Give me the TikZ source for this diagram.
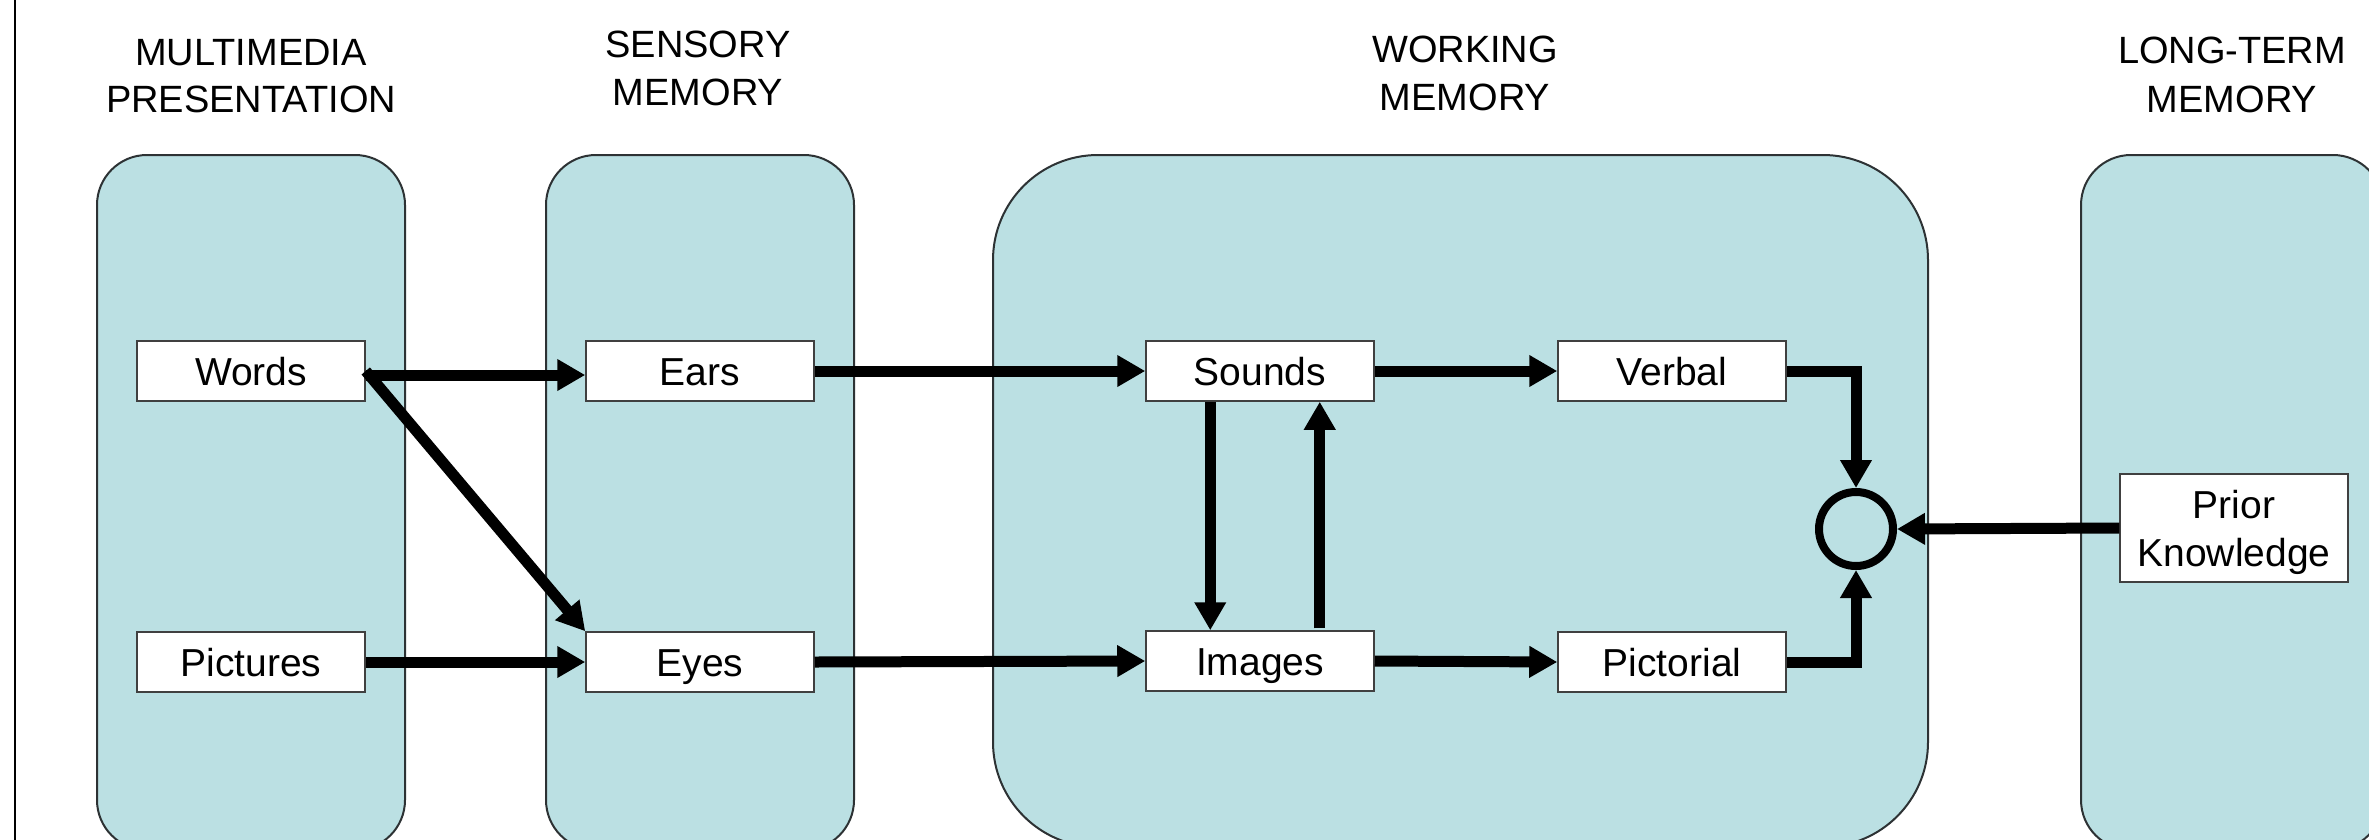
\documentclass[tikz,border=0pt]{standalone}
\usepackage{fontspec}
\setmainfont{Liberation Sans}
\usetikzlibrary{arrows.meta,calc}
\definecolor{stagefill}{RGB}{187,224,227}
\definecolor{stageedge}{RGB}{45,50,52}
\begin{document}
\begin{tikzpicture}[x=1pt,y=-1pt,
  stage/.style={draw=stageedge, line width=2pt, fill=stagefill},
  hdr/.style={font=\fontsize{38}{46}\selectfont, anchor=base, inner sep=0pt},
  item/.style={draw=black!75, line width=1.5pt, fill=white,
    minimum width=228pt, minimum height=60pt, inner sep=0pt,
    text height=28pt, text depth=0pt, font=\fontsize{39}{48}\selectfont},
  flow/.style={line width=11pt, -{Triangle[width=30pt,length=28pt]}},
  junction/.style={draw, circle, line width=8pt, minimum size=74pt,
    inner sep=0pt, outer sep=4pt},
]
\useasboundingbox (0,0) rectangle (2369,839);
\clip (0,0) rectangle (2369,839);
\fill[white] (0,0) rectangle (2369,839);

% left frame line
\draw[line width=2pt] (15,-5) -- (15,845);

% memory stages
\draw[stage, rounded corners=50pt] (97,155) rectangle (405,850);
\draw[stage, rounded corners=50pt] (546,155) rectangle (854,850);
\draw[stage, rounded corners=105pt] (993,155) rectangle (1928,847);
\draw[stage, rounded corners=50pt] (2081,155) rectangle (2383,850);

% stage headings
\node[hdr] (h1a) at (251,65) {MULTIMEDIA};
\node[hdr] (h1b) at (251,112) {PRESENTATION};
\node[hdr] (h2a) at (698,57) {SENSORY};
\node[hdr] (h2b) at (698,105) {MEMORY};
\node[hdr] (h3a) at (1465,62) {WORKING};
\node[hdr] (h3b) at (1465,110) {MEMORY};
\node[hdr] (h4a) at (2232,63) {LONG-TERM};
\node[hdr] (h4b) at (2232,112) {MEMORY};

% boxes
\node[item] (words) at (251,371) {Words};
\node[item] (pictures) at (251,662) {Pictures};
\node[item] (ears) at (700,371) {Ears};
\node[item] (eyes) at (700,662) {Eyes};
\node[item] (sounds) at (1260,371) {Sounds};
\node[item] (images) at (1260,661) {Images};
\node[item] (verbal) at (1672,371) {Verbal};
\node[item] (pictorial) at (1672,662) {Pictorial};
\node[item, minimum height=108pt, align=center, text height=, text depth=0pt] (prior) at (2234,528) {Prior\\Knowledge};
\node[junction] (sum) at (1856,529) {};

% connections
\draw[flow] ([yshift=-4pt]words.east) -- ([yshift=-4pt]ears.west);
\draw[flow] (words.east) -- (eyes.north west);
\draw[flow] (pictures.east) -- (eyes.west);
\draw[flow] (ears.east) -- (sounds.west);
\draw[flow] (eyes.east) -- (images.west);
\draw[flow] (sounds.east) -- (verbal.west);
\draw[flow] (images.east) -- (pictorial.west);
\draw[flow] ([xshift=65pt]sounds.south west) -- ([xshift=65pt]images.north west);
\draw[flow] ([xshift=-55pt,yshift=2pt]images.north east) -- ([xshift=-55pt]sounds.south east);
\draw[flow] (verbal.east) -| (sum.north);
\draw[flow] (pictorial.east) -| (sum.south);
\draw[flow] (prior.west) -- (sum.east);
\end{tikzpicture}
\end{document}
